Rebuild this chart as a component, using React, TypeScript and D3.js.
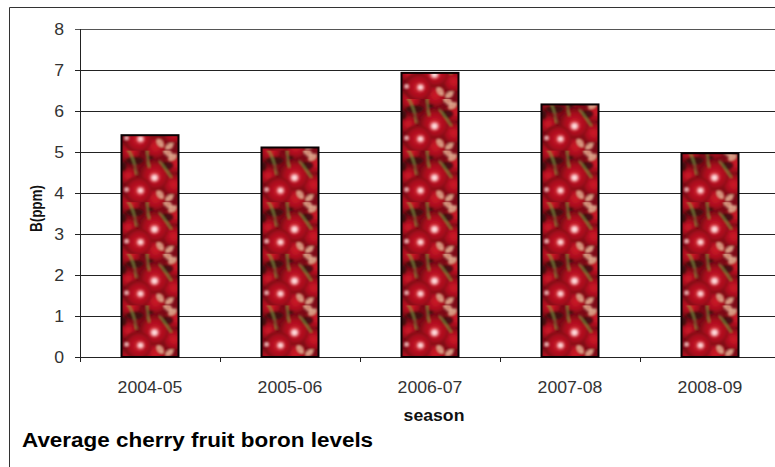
import React from "react";
import * as d3 from "d3";

const seasons = ["2004-05", "2005-06", "2006-07", "2007-08", "2008-09"];
const boronPpm = [5.41, 5.11, 6.93, 6.16, 4.97];
const yTicks = [0, 1, 2, 3, 4, 5, 6, 7, 8];

const W = 775;
const H = 467;
const FONT = "'Liberation Sans', Arial, sans-serif";
// Every horizontal label is drawn slightly wide.
const TEXT_STRETCH = 1.07;

// Cherry fill: one tile of fruit, stems and stalk ends, repeated up each bar.
const TILE_W = 57;
const TILE_H = 51.6;
const cherries: [number, number, number][] = [
  [8, 0, 11], [33, -4, 12], [8, 51.6, 11], [33, 47.6, 12],
  [52, 13, 10], [6, 25, 9], [51, 34, 11],
  [32, 25, 15], [16, 40, 14],
];
const glints: [number, number, number][] = [
  [33, 27, 2.8], [19, 40, 2.4], [5, 39, 1.4],
];
const stems: [number, number, number, number, number, number][] = [
  [26, -2, 25, 8, 28, 17],
  [3, -6, 13, 6, 15, 24],
  [38, 10, 44, 18, 50, 27],
];
const stalks: [number, number, number, number][] = [
  [43, -1, 50, 5],
  [48, 9, 54, 4],
  [36, 41, 41, 47],
  [45, 50, 51, 45],
];
const shadows: [number, number, number, number][] = [
  [13, 10, 9, 4], [46, 15, 6, 4], [2, 16, 3, 5], [29, 7, 3, 2],
];

export default function App() {
  const x = d3
    .scaleBand<string>()
    .domain(seasons)
    .range([80, 780])
    .paddingInner(0.593)
    .paddingOuter(0.2965);
  const y = d3.scaleLinear().domain([0, 8]).range([357, 29]);
  const edges = d3.range(seasons.length + 1).map((i) => 80 + i * x.step());

  return (
    <svg
      width={W}
      height={H}
      style={{ position: "absolute", left: 0, top: 0, background: "#fff" }}
      fontFamily={FONT}
    >
      <defs>
        <radialGradient id="fruit" cx="0.55" cy="0.5" r="0.58">
          <stop offset="0" stopColor="#d01828" />
          <stop offset="0.6" stopColor="#a80d1d" />
          <stop offset="1" stopColor="#640410" />
        </radialGradient>
        <filter id="soft" x="-5%" y="-5%" width="110%" height="110%">
          <feGaussianBlur stdDeviation="0.9" />
        </filter>
        {seasons.map((s, i) => (
          <pattern
            key={s}
            id={`cherry-${i}`}
            patternUnits="userSpaceOnUse"
            width={TILE_W}
            height={TILE_H}
            patternTransform={`translate(${x(s)!},${y(0) - TILE_H})`}
          >
            <rect width={TILE_W} height={TILE_H} fill="#7d0917" />
            <g filter="url(#soft)">
              {cherries.map(([cx, cy, r], k) => (
                <circle key={k} cx={cx} cy={cy} r={r} fill="url(#fruit)" />
              ))}
              {shadows.map(([cx, cy, rx, ry], k) => (
                <ellipse key={k} cx={cx} cy={cy} rx={rx} ry={ry} fill="#3a0a10" opacity={0.85} />
              ))}
              {stems.map(([a, b, c, d, e, f], k) => (
                <path
                  key={k}
                  d={`M${a},${b}Q${c},${d} ${e},${f}`}
                  fill="none"
                  stroke="#7f9a45"
                  strokeWidth={1.3}
                />
              ))}
              {stalks.map(([a, b, c, d], k) => (
                <path
                  key={k}
                  d={`M${a},${b}Q${c},${b} ${c},${d} Q${a},${d} ${a},${b}`}
                  fill="#c9705f"
                  stroke="#e5b79a"
                  strokeWidth={1.6}
                />
              ))}
              {glints.map(([cx, cy, r], k) => (
                <g key={k}>
                  <circle cx={cx} cy={cy} r={r * 1.8} fill="#f06a78" opacity={0.6} />
                  <circle cx={cx} cy={cy} r={r} fill="#ffdcdc" />
                </g>
              ))}
            </g>
          </pattern>
        ))}
      </defs>

      {/* chart frame, running off the right and bottom of the page */}
      <path d={`M9.5,${H}V7.5H${W}`} fill="none" stroke="#333" strokeWidth={1} />

      {/* gridlines and value axis */}
      {yTicks.map((t) => (
        <g key={t}>
          <line
            x1={75}
            x2={W}
            y1={Math.round(y(t)) + 0.5}
            y2={Math.round(y(t)) + 0.5}
            stroke={t === 8 ? "#555" : "#222"}
          />
          <text
            transform={`translate(64,${y(t) + 6}) scale(${TEXT_STRETCH},1)`}
            textAnchor="end"
            fontSize={16.5}
            fill="#333"
          >
            {t}
          </text>
        </g>
      ))}
      <line x1={80.5} x2={80.5} y1={29} y2={362} stroke="#222" />

      {/* category tick marks */}
      {edges.map((e) => (
        <line key={e} x1={e + 0.5} x2={e + 0.5} y1={357} y2={362} stroke="#222" />
      ))}

      {/* bars */}
      {seasons.map((s, i) => (
        <rect
          key={s}
          x={x(s)!}
          y={y(boronPpm[i])}
          width={x.bandwidth()}
          height={y(0) - y(boronPpm[i])}
          fill={`url(#cherry-${i})`}
          stroke="#0a0204"
          strokeWidth={2}
        />
      ))}

      {/* category labels */}
      {seasons.map((s) => (
        <text
          key={s}
          transform={`translate(${x(s)! + x.bandwidth() / 2},392.5) scale(${TEXT_STRETCH},1)`}
          textAnchor="middle"
          fontSize={16.5}
          fill="#333"
        >
          {s}
        </text>
      ))}

      <text
        transform={`translate(434,421) scale(${TEXT_STRETCH},1)`}
        textAnchor="middle"
        fontSize={16.5}
        fontWeight={700}
        fill="#111"
      >
        season
      </text>
      <text
        transform="translate(42,208.5) scale(1.2,1) rotate(-90)"
        textAnchor="middle"
        fontSize={13.5}
        fontWeight={700}
        fill="#111"
      >
        B(ppm)
      </text>
      <text
        transform={`translate(22,447) scale(${TEXT_STRETCH},1)`}
        fontSize={21}
        fontWeight={700}
        fill="#000"
      >
        Average cherry fruit boron levels
      </text>
    </svg>
  );
}
